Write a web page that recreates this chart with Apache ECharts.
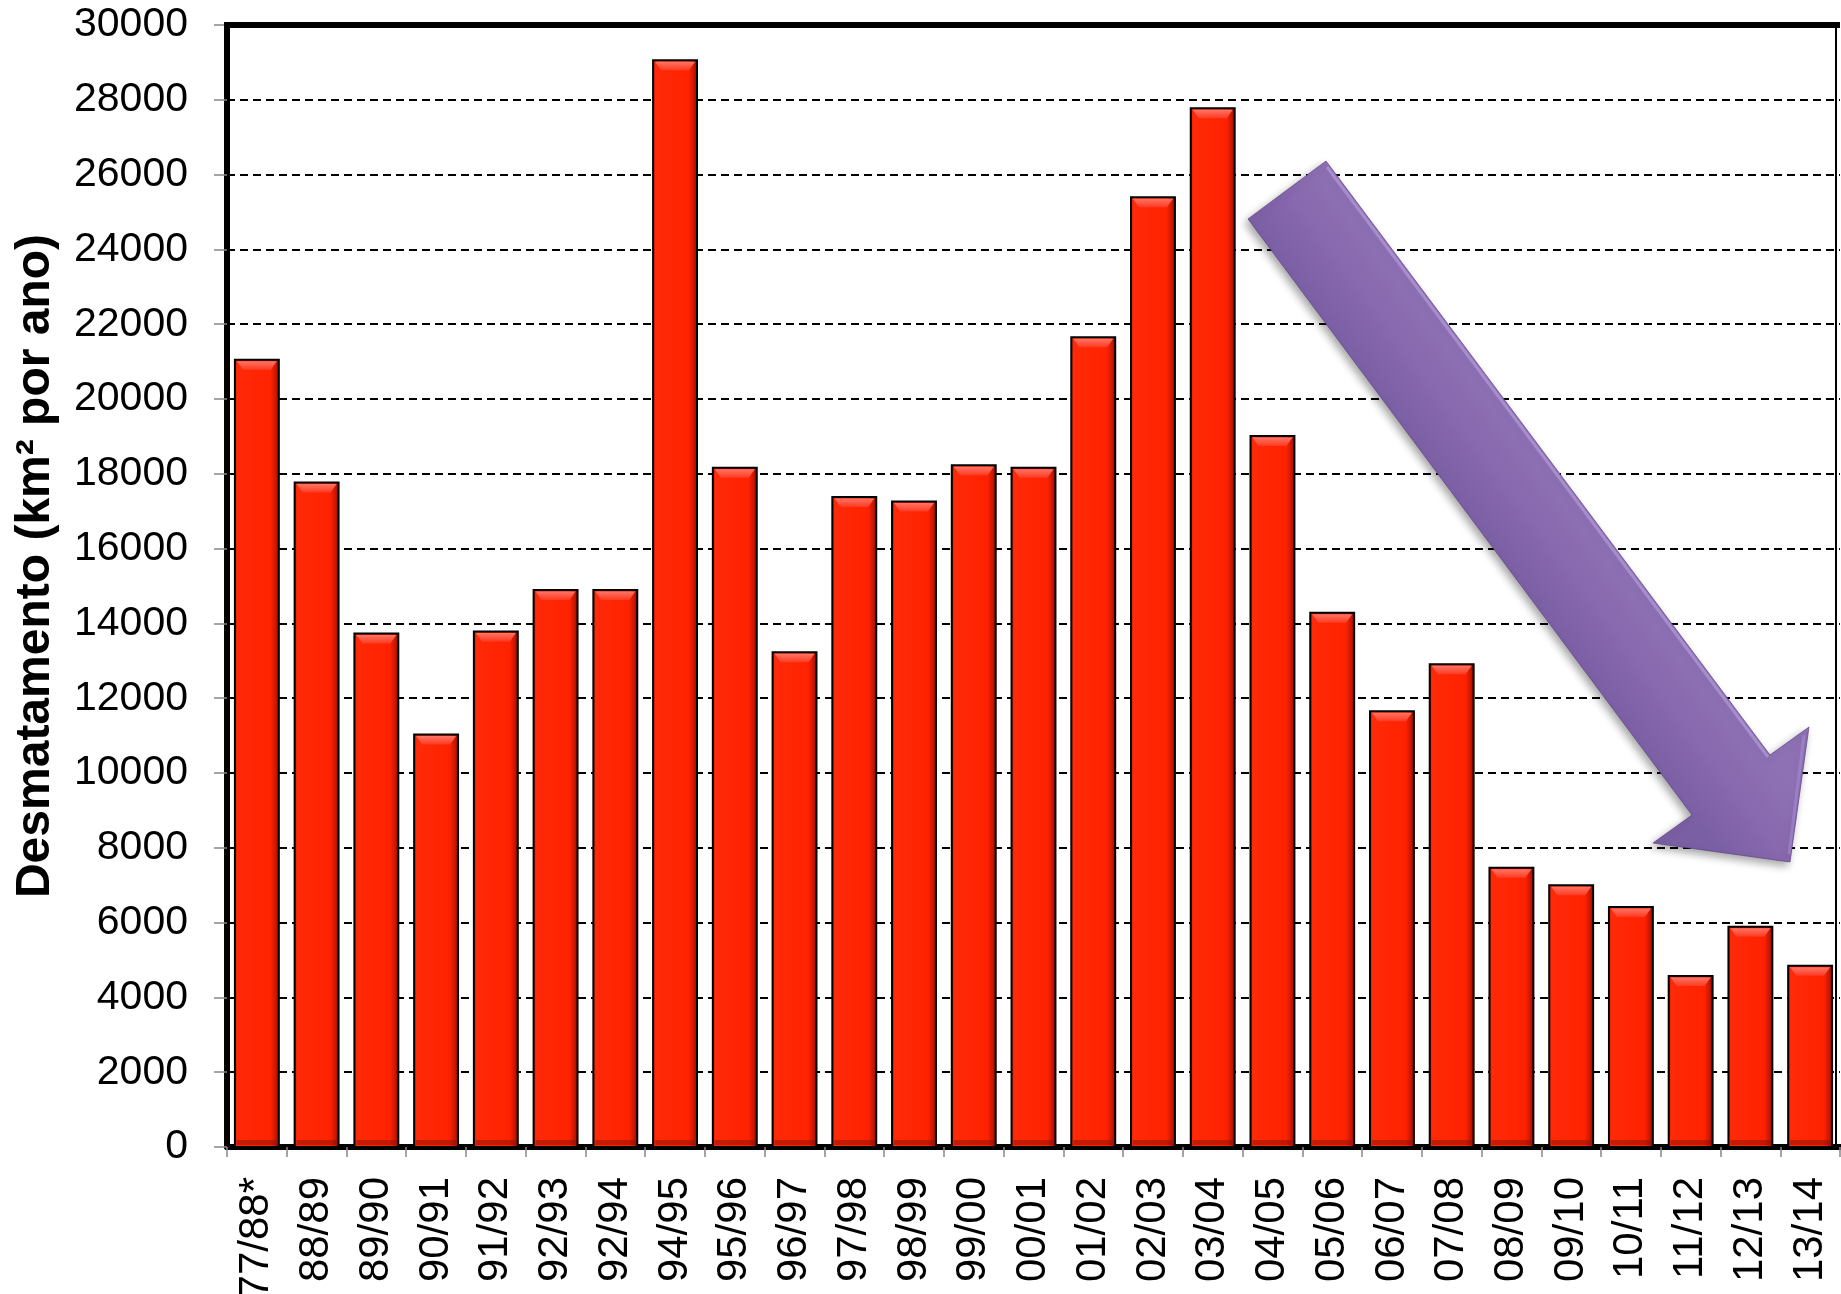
<!DOCTYPE html>
<html>
<head>
<meta charset="utf-8">
<title>Desmatamento anual</title>
<script src="https://cdn.jsdelivr.net/npm/echarts@6/dist/echarts.min.js"></script>
<style>
  html, body { margin: 0; padding: 0; background: #fff; }
  #chart { width: 1841px; height: 1294px; }
</style>
</head>
<body>
<div id="chart"></div>
<script>
// Annual deforestation (km² per year), season labels as printed on the axis
const categories = ['77/88*', '88/89', '89/90', '90/91', '91/92', '92/93', '92/94', '94/95', '95/96',
  '96/97', '97/98', '98/99', '99/00', '00/01', '01/02', '02/03', '03/04', '04/05', '05/06',
  '06/07', '07/08', '08/09', '09/10', '10/11', '11/12', '12/13', '13/14'];
const deforestation = [21050, 17770, 13730, 11030, 13786, 14896, 14896, 29059, 18161,
  13227, 17383, 17259, 18226, 18165, 21651, 25396, 27772, 19014, 14286,
  11651, 12911, 7464, 7000, 6418, 4571, 5891, 4848];
const yMin = 0;
const yMax = 30000;
const yStep = 2000;
const yTitle = 'Desmatamento (km² por ano)';

const FONT = "'Liberation Sans', Arial, sans-serif";

// Plot frame (pixels)
const plot = { left: 227, right: 1840, top: 25, bottom: 1147 };

// Decorative downward-trend arrow (pixels)
const arrowPoints = [
  [1248, 219], [1326, 161], [1770, 755], [1809, 727],
  [1790, 862], [1653, 843], [1692, 815]
];

const chart = echarts.init(document.getElementById('chart'), null, { renderer: 'canvas' });
const LG = echarts.graphic.LinearGradient;

function renderBar(params, api) {
  const idx = api.value(0);
  const val = api.value(1);
  const top = api.coord([idx, val]);
  const base = api.coord([idx, 0]);
  const w = api.size([1, 0])[0] * 0.735;
  const l = top[0] - w / 2, r = top[0] + w / 2;
  const t = top[1], b = base[1];
  const h = b - t;
  const bev = Math.min(10, h / 2);
  return {
    type: 'group',
    children: [
      {
        type: 'rect',
        shape: { x: l, y: t, width: w, height: h },
        style: {
          fill: new LG(0, 0, 1, 0, [
            { offset: 0, color: '#9E1200' },
            { offset: 0.07, color: '#FF2A08' },
            { offset: 0.80, color: '#FF2200' },
            { offset: 0.92, color: '#C41600' },
            { offset: 1, color: '#700800' }
          ]),
          stroke: '#000',
          lineWidth: 2
        }
      },
      {
        type: 'polygon',
        shape: { points: [[l + 2, t + 1.5], [r - 2, t + 1.5], [r - 8, t + bev], [l + 8, t + bev]] },
        style: {
          fill: new LG(0, 0, 0, 1, [
            { offset: 0, color: '#FF7565' },
            { offset: 1, color: '#FF3A22' }
          ])
        }
      },
      {
        type: 'rect',
        shape: { x: l + 2, y: b - 7, width: w - 4, height: 5 },
        style: { fill: 'rgba(130,18,0,0.5)' }
      }
    ]
  };
}

const option = {
  animation: false,
  backgroundColor: '#fff',
  grid: {
    left: plot.left,
    top: plot.top,
    width: plot.right - plot.left,
    height: plot.bottom - plot.top,
    containLabel: false,
    outerBoundsMode: 'none'
  },
  xAxis: {
    type: 'category',
    data: categories,
    boundaryGap: true,
    axisLine: { show: true, lineStyle: { color: '#000', width: 6 } },
    axisTick: { show: true, length: 10, lineStyle: { color: '#888', width: 1.5 } },
    axisLabel: {
      interval: 0,
      rotate: 90,
      margin: 30,
      color: '#000',
      fontFamily: FONT,
      fontSize: 42
    },
    splitLine: { show: false }
  },
  yAxis: {
    type: 'value',
    min: yMin,
    max: yMax,
    interval: yStep,
    axisLine: { show: true, lineStyle: { color: '#000', width: 6 } },
    axisTick: { show: true, length: 13, lineStyle: { color: '#888', width: 1.5 } },
    axisLabel: {
      margin: 39,
      color: '#000',
      fontFamily: FONT,
      fontSize: 41,
      formatter: v => String(v)
    },
    splitLine: { show: true, lineStyle: { color: '#000', width: 2, type: [8, 5] } }
  },
  series: [{
    type: 'custom',
    renderItem: renderBar,
    data: deforestation.map((v, i) => [i, v]),
    encode: { x: 0, y: 1 },
    z: 3
  }],
  graphic: [
    // top and right edges of the frame
    {
      type: 'line', z: 50,
      shape: { x1: plot.left - 3, y1: plot.top, x2: plot.right, y2: plot.top },
      style: { stroke: '#000', lineWidth: 6 }
    },
    {
      type: 'line', z: 50,
      shape: { x1: 1836, y1: plot.top, x2: 1836, y2: plot.bottom },
      style: { stroke: '#000', lineWidth: 2 }
    },
    // y axis title
    {
      type: 'text', z: 50,
      x: 36, y: 566,
      rotation: Math.PI / 2,
      style: {
        text: yTitle,
        fill: '#000',
        font: 'bold 48px ' + FONT,
        textAlign: 'center',
        textVerticalAlign: 'middle'
      }
    },
    // trend arrow
    {
      type: 'polygon', z: 60,
      shape: { points: arrowPoints },
      style: {
        fill: new LG(1248, 219, 1326, 161, [
          { offset: 0, color: '#7B5FA4' },
          { offset: 0.5, color: '#8868AE' },
          { offset: 1, color: '#8E71B5' }
        ], true),
        stroke: 'rgba(95,65,135,0.7)',
        lineWidth: 1,
        shadowBlur: 8,
        shadowColor: 'rgba(0,0,0,0.35)',
        shadowOffsetX: -3,
        shadowOffsetY: 4
      }
    },
    // soft bevel along the upper-right edges of the arrow
    {
      type: 'polyline', z: 61,
      shape: { points: [[1327, 167], [1768, 757]] },
      style: { stroke: 'rgba(185,162,222,0.6)', lineWidth: 3 }
    },
    {
      type: 'polyline', z: 61,
      shape: { points: [[1804, 735], [1789, 854]] },
      style: { stroke: 'rgba(170,146,212,0.5)', lineWidth: 3 }
    }
  ]
};

chart.setOption(option);
</script>
</body>
</html>
